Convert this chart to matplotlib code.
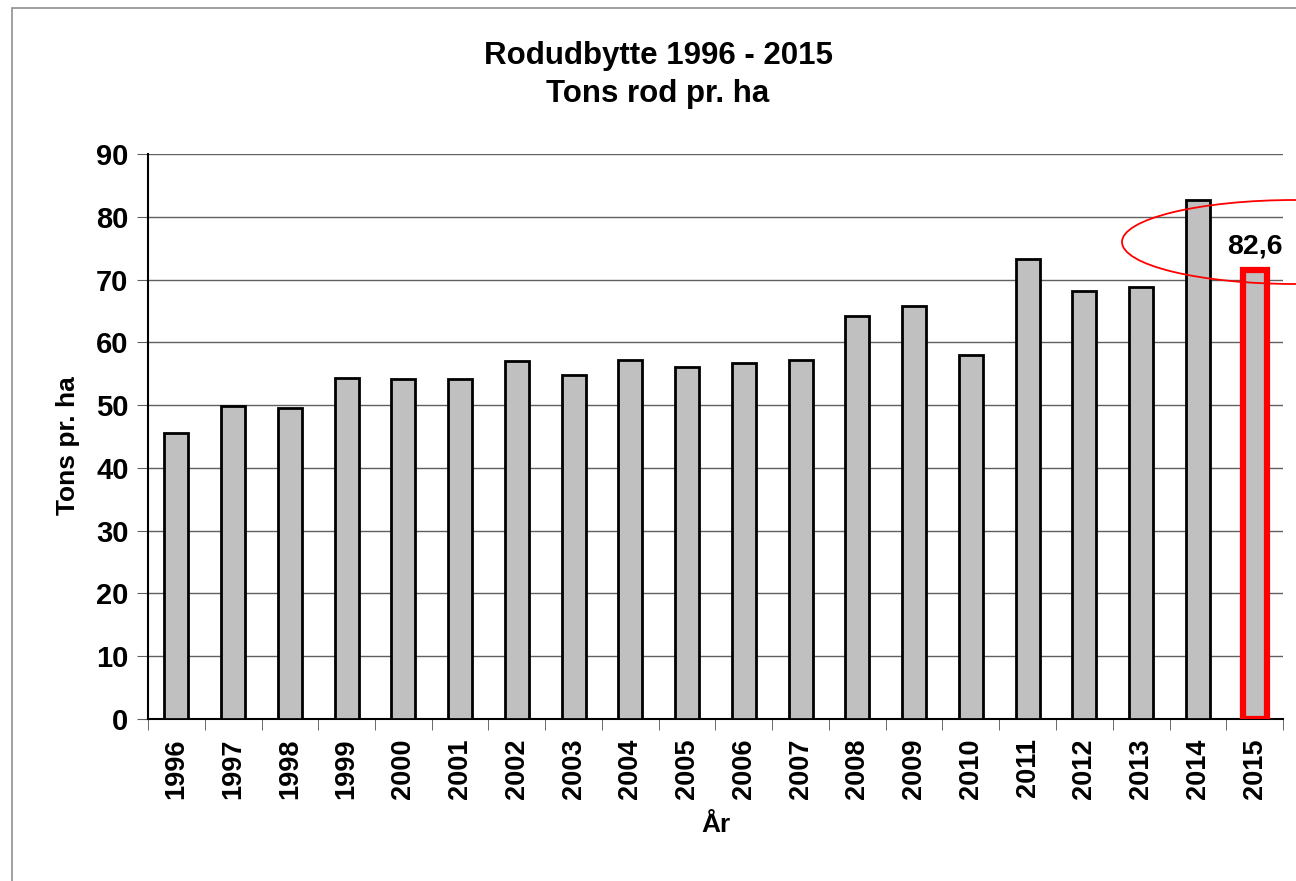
import numpy as np
import matplotlib.pyplot as plt
import matplotlib.patches as mpatches

plt.rcParams['font.family'] = ['Liberation Sans', 'DejaVu Sans']
plt.rcParams['font.weight'] = 'bold'

years = [str(y) for y in range(1996, 2016)]
yields = [45.6, 49.9, 49.5, 54.3, 54.2, 54.2, 57.0, 54.8, 57.2, 56.1,
          56.7, 57.2, 64.2, 65.8, 58.0, 73.3, 68.2, 68.8, 82.6, 71.5]
label_text = '82,6'
yticks = list(range(0, 100, 10))

W, H = 1296, 881
fig = plt.figure(figsize=(W / 100, H / 100), dpi=100)
ax = fig.add_axes([148 / W, 1 - 719 / H, (1283 - 148) / W, 565 / H])

x = np.arange(len(years))
edge = ['black'] * (len(years) - 1) + ['red']
lw = [2] * (len(years) - 1) + [4.5]
ax.bar(x, yields, width=0.42, color='#c0c0c0', edgecolor=edge, linewidth=lw, zorder=3)

ax.set_xlim(-0.5, len(years) - 0.5)
ax.set_ylim(0, 90)
ax.set_yticks(yticks)
ax.yaxis.grid(True, color='#606060', linewidth=1.0, zorder=0)
ax.tick_params(axis='y', length=8, color='#606060', labelsize=21, pad=6)

ax.set_xticks(x)
ax.set_xticklabels(years, rotation=90, fontsize=19.5)
ax.set_xticks(np.arange(-0.5, len(years)), minor=True)
ax.tick_params(axis='x', which='major', length=0, pad=14)
ax.tick_params(axis='x', which='minor', length=8, color='#505050')

for s in ['top', 'right']:
    ax.spines[s].set_visible(False)
ax.spines['left'].set_linewidth(1.5)
ax.spines['bottom'].set_linewidth(1.5)

ax.set_xlabel('År', fontsize=19, fontweight='bold', labelpad=10)
ax.set_ylabel('Tons pr. ha', fontsize=19, fontweight='bold')
ax.yaxis.set_label_coords(-0.060, 0.483)

fig.text(658 / W, 1 - 75 / H, 'Rodudbytte 1996 - 2015\nTons rod pr. ha',
         ha='center', va='center', fontsize=22.5, fontweight='bold', linespacing=1.35)

ax.text(x[-1], 75.2, label_text, ha='center', va='center',
        fontsize=20.5, fontweight='bold', zorder=5)

ell = mpatches.Ellipse((1295 / W, 1 - 242 / H), 346 / W, 84 / H,
                       transform=fig.transFigure, fill=False,
                       edgecolor='red', linewidth=1.3)
fig.patches.append(ell)

border = mpatches.Rectangle((12 / W, -0.05), 1.1, 1 - 8 / H + 0.05,
                            transform=fig.transFigure, fill=False,
                            edgecolor='#909090', linewidth=1.2)
fig.patches.append(border)

fig.savefig('out.png', dpi=100)
